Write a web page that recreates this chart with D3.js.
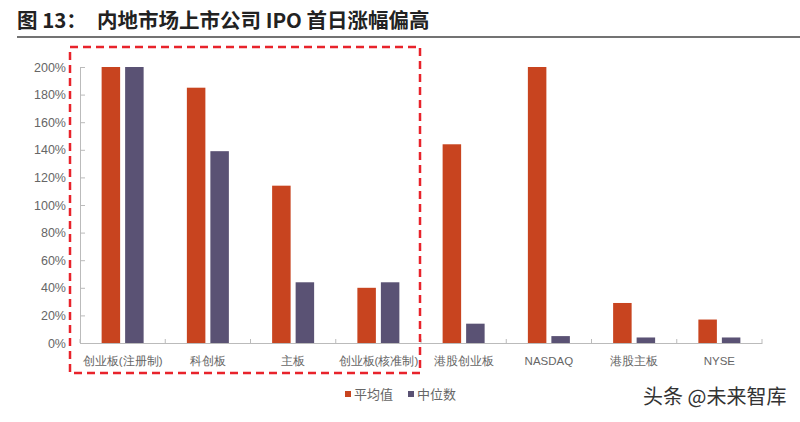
<!DOCTYPE html>
<html><head><meta charset="utf-8">
<script src="https://cdn.jsdelivr.net/npm/d3@7"></script>
<style>body{margin:0;background:#fff}svg{display:block}</style>
</head><body>
<script>
const categories = ["创业板(注册制)","科创板","主板","创业板(核准制)","港股创业板","NASDAQ","港股主板","NYSE"];
const meanValues = [200,185,114,40,144,200,29,17];
const medianValues = [200,139,44,44,14,5,4,4];
const seriesNames = ["平均值","中位数"];
const yTicks = [0,20,40,60,80,100,120,140,160,180,200];
const colors = ["#C8441F","#5A5274"];
const font = "'Noto Sans CJK SC','Noto Sans',sans-serif";

const W=800,H=422;
const svg=d3.select("body").append("svg").attr("width",W).attr("height",H).style("font-family",font);
const x0=80,x1=762,yTop=67,yBot=343;
const x=d3.scaleBand().domain(categories).range([x0,x1]);
const y=d3.scaleLinear().domain([0,200]).range([yBot,yTop]);

// title
svg.append("text").attr("x",17).attr("y",28).attr("font-size",20.5).attr("font-weight","bold").attr("fill","#222").text("图 13：");
svg.append("text").attr("x",97).attr("y",28).attr("font-size",20.5).attr("font-weight","bold").attr("fill","#222").text("内地市场上市公司 IPO 首日涨幅偏高");
svg.append("line").attr("x1",17).attr("x2",800).attr("y1",37).attr("y2",37).attr("stroke","#444").attr("stroke-width",1.5);

// y axis
const yAxis=svg.append("g").attr("transform",`translate(${x0},0)`)
  .call(d3.axisLeft(y).tickValues(yTicks).tickFormat(d=>d+"%").tickSizeInner(-5).tickSizeOuter(0).tickPadding(14));
yAxis.select(".domain").attr("stroke","#bbb");
yAxis.selectAll(".tick line").attr("stroke","#bbb");
yAxis.selectAll("text").attr("fill","#666").attr("font-size",12.5).attr("font-family","'Liberation Sans',Arial,sans-serif");

// x axis
const xAxis=svg.append("g").attr("transform",`translate(0,${yBot})`)
  .call(d3.axisBottom(x).tickSize(0).tickPadding(14));
xAxis.select(".domain").attr("stroke","#bbb");
xAxis.selectAll("text").attr("fill","#666").attr("font-size",11.5);
// boundary ticks
const bounds=categories.map(c=>x(c)).concat([x1]);
svg.append("g").selectAll("line").data(bounds).join("line")
  .attr("x1",d=>d).attr("x2",d=>d).attr("y1",yBot-4).attr("y2",yBot).attr("stroke","#bbb");

// bars
const bw=18.5, gap=5;
const series=[meanValues,medianValues];
series.forEach((vals,si)=>{
  svg.append("g").selectAll("rect").data(categories).join("rect")
    .attr("x",(c)=>x(c)+x.bandwidth()/2 - gap/2 - bw + si*(bw+gap))
    .attr("y",(c,i)=>y(vals[i]))
    .attr("width",bw)
    .attr("height",(c,i)=>yBot-y(vals[i]))
    .attr("fill",colors[si]);
});

// red dashed box
svg.append("rect").attr("x",70).attr("y",47).attr("width",350).attr("height",326)
  .attr("fill","none").attr("stroke","#E8232B").attr("stroke-width",2.5).attr("stroke-dasharray","8,5");

// legend
const lg=svg.append("g");
const legX=[345,408];
seriesNames.forEach((n,i)=>{
  lg.append("rect").attr("x",legX[i]).attr("y",391).attr("width",6).attr("height",6).attr("fill",colors[i]);
  lg.append("text").attr("x",legX[i]+9).attr("y",399).attr("font-size",13).attr("fill","#666").text(n);
});

// watermark
svg.append("text").attr("x",643).attr("y",404).attr("font-size",20).attr("fill","#333").text("头条 @未来智库");
</script>
</body></html>
